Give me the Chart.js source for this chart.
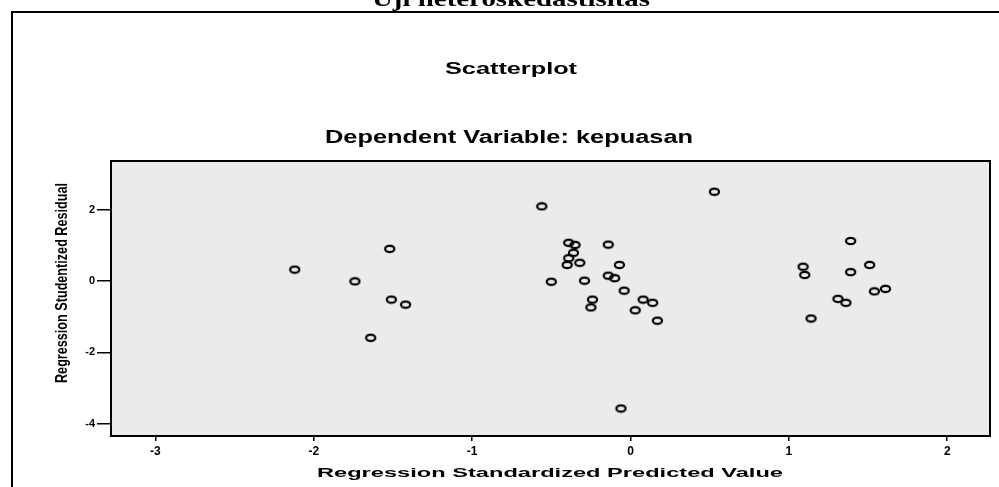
<!DOCTYPE html>
<html>
<head>
<meta charset="utf-8">
<script src="https://cdn.jsdelivr.net/npm/chart.js@4"></script>
<style>
  html, body { margin: 0; padding: 0; background: #fff; }
  #wrap { width: 999px; height: 487px; }
</style>
</head>
<body>
<div id="wrap"><canvas id="scatterChart" width="999" height="487"></canvas></div>
<script>
// standardized predicted value (x) and studentized residual (y)
const predicted = [
    -1.52, -2.12, -1.74, -1.51, -1.42, -1.64,
    0.53, -0.56, -0.39, -0.35, -0.14, -0.36, -0.39, -0.40, -0.32, -0.07,
    -0.50, -0.29, -0.14, -0.10, -0.04, -0.24, -0.25, 0.08, 0.14, 0.03, 0.17, -0.06,
    1.39, 1.09, 1.10, 1.39, 1.51, 1.54, 1.61, 1.31, 1.36, 1.14
];
const residual = [
    0.90, 0.32, -0.01, -0.52, -0.66, -1.59,
    2.50, 2.09, 1.07, 1.01, 1.02, 0.79, 0.64, 0.45, 0.51, 0.45,
    -0.02, 0.01, 0.15, 0.08, -0.27, -0.52, -0.74, -0.52, -0.61, -0.82, -1.11, -3.57,
    1.12, 0.40, 0.17, 0.25, 0.45, -0.29, -0.22, -0.50, -0.61, -1.05
];
const xTicks = [-3, -2, -1, 0, 1, 2];
const yTicks = [-4, -2, 0, 2];

const pageTitle = 'Uji heteroskedastisitas';
const chartTitle = 'Scatterplot';
const chartSubtitle = 'Dependent Variable: kepuasan';
const xTitle = 'Regression Standardized Predicted Value';
const yTitle = 'Regression Studentized Residual';

const points = predicted.map((x, i) => ({ x: x, y: residual[i] }));

// small open ellipse, like the SPSS marker (picture is stretched sideways)
const ring = document.createElement('canvas');
ring.width = 13;
ring.height = 10;
const rc = ring.getContext('2d');
rc.strokeStyle = '#000';
rc.lineWidth = 2.2;
rc.beginPath();
rc.ellipse(6.5, 5, 4.6, 3.2, 0, 0, Math.PI * 2);
rc.stroke();

// text squeezed/stretched horizontally to a given width
function stretchText(ctx, text, x, y, font, width, rotate) {
    ctx.save();
    ctx.font = font;
    ctx.fillStyle = '#000';
    ctx.textAlign = 'center';
    ctx.textBaseline = 'alphabetic';
    const w = ctx.measureText(text).width;
    ctx.translate(x, y);
    if (rotate) {
        ctx.scale(1.35, 1);
        ctx.rotate(-Math.PI / 2);
        ctx.scale(width / w, 1);
    } else {
        ctx.scale(width / w, 1);
    }
    ctx.fillText(text, 0, 0);
    ctx.restore();
}

const decor = {
    id: 'decor',
    beforeDraw(chart) {
        const ctx = chart.ctx;
        const a = chart.chartArea;
        ctx.save();
        ctx.fillStyle = '#fff';
        ctx.fillRect(0, 0, chart.width, chart.height);
        ctx.fillStyle = '#ebebeb';
        ctx.fillRect(a.left, a.top, a.right - a.left, a.bottom - a.top);
        // outer frame
        ctx.strokeStyle = '#000';
        ctx.lineWidth = 2;
        ctx.beginPath();
        ctx.moveTo(12, chart.height);
        ctx.lineTo(12, 12);
        ctx.lineTo(chart.width, 12);
        ctx.stroke();
        ctx.restore();

        stretchText(ctx, pageTitle, 511, 6, 'bold 22px "Liberation Serif"', 278);
        stretchText(ctx, chartTitle, 511, 74, 'bold 16px "Liberation Sans"', 132);
        stretchText(ctx, chartSubtitle, 509, 143, 'bold 18px "Liberation Sans"', 368);
        stretchText(ctx, xTitle, 550, 477, 'bold 13.5px "Liberation Sans"', 466);
        stretchText(ctx, yTitle, 67, 283, 'bold 12.5px "Liberation Sans"', 200, true);
    },
    afterDraw(chart) {
        const ctx = chart.ctx;
        const a = chart.chartArea;
        ctx.save();
        ctx.strokeStyle = '#000';
        ctx.lineWidth = 2;
        ctx.strokeRect(a.left, a.top, a.right - a.left, a.bottom - a.top);
        ctx.restore();
    }
};

const ctx = document.getElementById('scatterChart').getContext('2d');

const scatterChart = new Chart(ctx, {
    type: 'scatter',
    data: {
        datasets: [
            {
                label: 'kepuasan',
                data: points,
                pointStyle: ring,
                pointRadius: 5,
                pointHoverRadius: 5,
                borderColor: '#000',
                backgroundColor: 'transparent'
            }
        ]
    },
    options: {
        responsive: false,
        animation: false,
        layout: {
            padding: { top: 161, right: 9, left: 0, bottom: 0 }
        },
        plugins: {
            legend: { display: false },
            tooltip: { enabled: false }
        },
        scales: {
            x: {
                type: 'linear',
                min: -3.28,
                max: 2.27,
                afterBuildTicks: (s) => { s.ticks = xTicks.map(v => ({ value: v })); },
                afterFit: (s) => { s.height = 51; },
                grid: { drawOnChartArea: false, drawTicks: true, tickLength: 5, color: '#000', lineWidth: 1.5 },
                border: { color: '#000', width: 2 },
                ticks: {
                    color: '#000',
                    padding: 3,
                    font: { family: 'Liberation Sans', weight: 'bold', size: 12 }
                }
            },
            y: {
                type: 'linear',
                min: -4.34,
                max: 3.36,
                afterBuildTicks: (s) => { s.ticks = yTicks.map(v => ({ value: v })); },
                afterFit: (s) => { s.width = 111; },
                grid: { drawOnChartArea: false, drawTicks: true, tickLength: 14, color: '#000', lineWidth: 1.5 },
                border: { color: '#000', width: 2 },
                ticks: {
                    color: '#000',
                    padding: 2,
                    font: { family: 'Liberation Sans', weight: 'bold', size: 11 }
                }
            }
        }
    },
    plugins: [decor]
});
</script>
</body>
</html>
